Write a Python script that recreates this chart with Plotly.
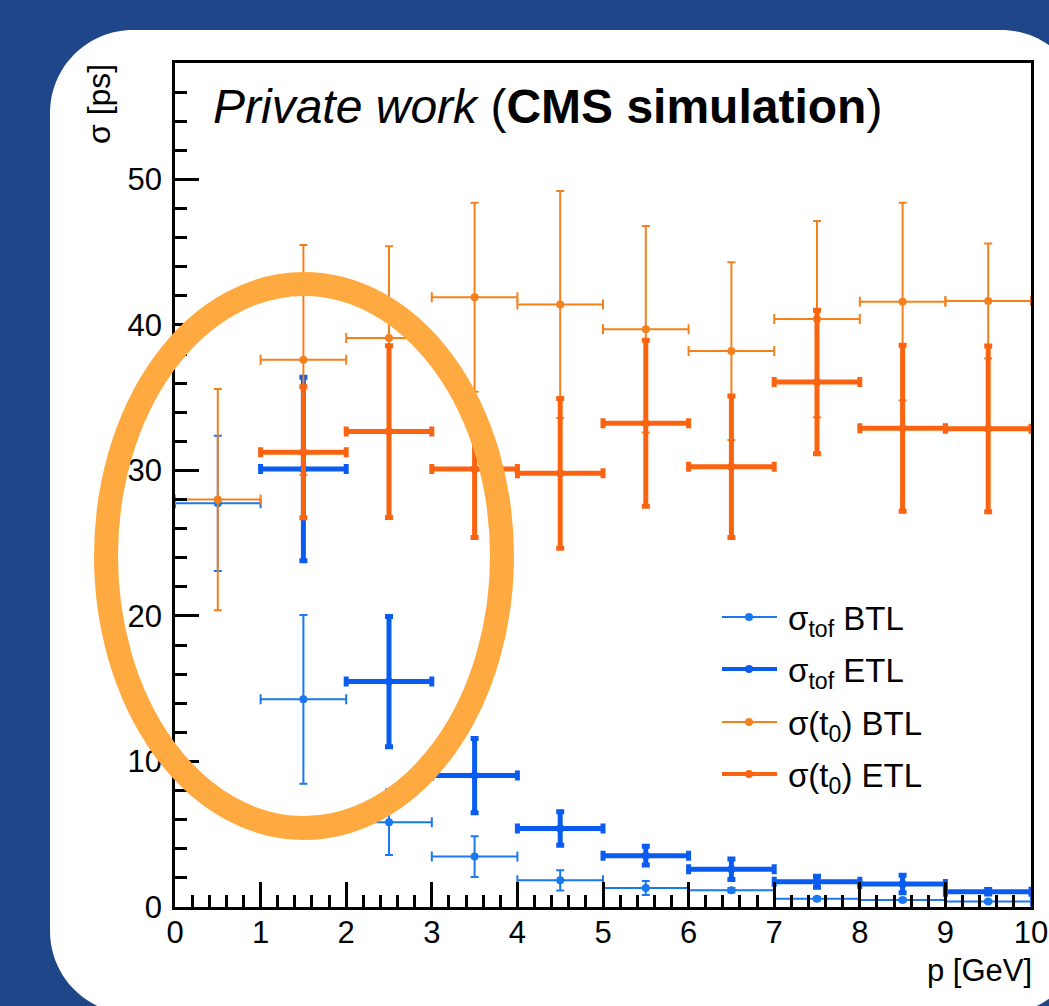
import plotly.graph_objects as go

# momentum bins [GeV]
bin_centers = [0.5, 1.5, 2.5, 3.5, 4.5, 5.5, 6.5, 7.5, 8.5, 9.5]
bin_halfwidth = [0.5] * 10

# sigma_tof, barrel (BTL) and endcap (ETL) [ps]
tof_btl = [27.74, 14.27, 5.82, 3.47, 1.83, 1.31, 1.15, 0.57, 0.48, 0.37]
tof_btl_err = [4.65, 5.8, 2.25, 1.4, 0.7, 0.48, 0.15, 0.1, 0.1, 0.08]
tof_etl = [None, 30.1, 15.49, 9.03, 5.4, 3.53, 2.59, 1.74, 1.58, 1.05]
tof_etl_err = [None, 6.3, 4.47, 2.55, 1.15, 0.65, 0.7, 0.38, 0.6, 0.15]

# sigma(t0), barrel (BTL) and endcap (ETL) [ps]
t0_btl = [28.0, 37.6, 39.1, 41.9, 41.4, 39.7, 38.2, 40.4, 41.6, 41.65]
t0_btl_err = [7.6, 7.9, 6.3, 6.5, 7.8, 7.1, 6.1, 6.75, 6.8, 3.95]
t0_etl = [None, 31.25, 32.67, 30.1, 29.8, 33.24, 30.26, 36.08, 32.9, 32.86]
t0_etl_err = [None, 4.5, 5.9, 4.7, 5.15, 5.7, 4.86, 4.93, 5.7, 5.7]

series_names = ["σ<sub>tof</sub> BTL", "σ<sub>tof</sub> ETL",
                "σ(t<sub>0</sub>) BTL", "σ(t<sub>0</sub>) ETL"]

C_TOF_BTL = "#1a78f0"
C_TOF_ETL = "#0a5cf0"
C_T0_BTL = "#f5801e"
C_T0_ETL = "#fa6410"
C_RING = "#ffaa40"
C_BG = "#1e4688"

FONT = "Liberation Sans, Arial, Helvetica, sans-serif"

W_PX, H_PX = 1049, 1006
L, R, T, B = 175, 18, 63, 99
PW, PH = W_PX - L - R, H_PX - T - B


def px(x):
    return (x - L) / PW


def py(y):
    return (T + PH - y) / PH


series = [
    (tof_btl, tof_btl_err, C_TOF_BTL, 2, 8),
    (tof_etl, tof_etl_err, C_TOF_ETL, 5, 8),
    (t0_btl, t0_btl_err, C_T0_BTL, 2, 8),
    (t0_etl, t0_etl_err, C_T0_ETL, 5, 8),
]

fig = go.Figure()
for (vals, errs, col, thick, msize), name in zip(series, series_names):
    fig.add_trace(go.Scatter(
        x=bin_centers, y=vals, mode="markers", name=name,
        marker=dict(color=col, size=msize, symbol="circle"),
        error_x=dict(type="data", array=bin_halfwidth, color=col,
                     thickness=thick, width=5),
        error_y=dict(type="data", array=errs, color=col,
                     thickness=thick, width=4),
        showlegend=False,
    ))

shapes = []

# white rounded panel behind the plot
x0, x1, y0, y1, r = px(50), px(1084), py(30), py(1014), 83
rx, ry = r / PW, r / PH
k = 0.5523
path = (
    f"M{x0 + rx},{y0} L{x1 - rx},{y0} "
    f"C{x1 - rx + k * rx},{y0} {x1},{y0 - ry + k * ry} {x1},{y0 - ry} "
    f"L{x1},{y1 + ry} "
    f"C{x1},{y1 + ry - k * ry} {x1 - rx + k * rx},{y1} {x1 - rx},{y1} "
    f"L{x0 + rx},{y1} "
    f"C{x0 + rx - k * rx},{y1} {x0},{y1 + ry - k * ry} {x0},{y1 + ry} "
    f"L{x0},{y0 - ry} "
    f"C{x0},{y0 - ry + k * ry} {x0 + rx - k * rx},{y0} {x0 + rx},{y0} Z"
)
shapes.append(dict(type="path", xref="paper", yref="paper", path=path,
                   fillcolor="white", line=dict(width=0), layer="below"))

# highlight ring around the low-momentum bins
shapes.append(dict(type="circle", xref="paper", yref="paper",
                   x0=px(106), x1=px(502), y0=py(828), y1=py(284),
                   line=dict(color=C_RING, width=24), layer="above"))

# legend entries
leg_rows = [617, 669, 722, 774]
annotations = []
for (vals, errs, col, thick, msize), name, yrow in zip(series, series_names, leg_rows):
    shapes.append(dict(type="line", xref="paper", yref="paper",
                       x0=px(722), x1=px(777), y0=py(yrow), y1=py(yrow),
                       line=dict(color=col, width=thick - 1 if thick > 2 else 2)))
    shapes.append(dict(type="circle", xref="paper", yref="paper",
                       xsizemode="pixel", ysizemode="pixel",
                       xanchor=px(749), yanchor=py(yrow),
                       x0=-4, x1=4, y0=-4, y1=4,
                       fillcolor=col, line=dict(width=0)))
    annotations.append(dict(xref="paper", yref="paper", x=px(786), y=py(yrow + 4),
                            xanchor="left", yanchor="middle", showarrow=False,
                            text=name, font=dict(family=FONT, size=33, color="black")))

annotations.append(dict(xref="paper", yref="paper", x=px(211), y=py(106),
                        xanchor="left", yanchor="middle", showarrow=False,
                        text="<i>Private work</i> (<b>CMS simulation</b>)",
                        font=dict(family=FONT, size=48, color="black")))
annotations.append(dict(xref="paper", yref="paper", x=px(99), y=py(62),
                        xanchor="center", yanchor="top", showarrow=False,
                        textangle=-90, text="σ [ps]",
                        font=dict(family=FONT, size=32, color="black")))
annotations.append(dict(xref="paper", yref="paper", x=px(1034), y=py(971),
                        xanchor="right", yanchor="middle", showarrow=False,
                        text="p [GeV]",
                        font=dict(family=FONT, size=31, color="black")))

axis_common = dict(showgrid=False, zeroline=False, showline=True,
                   linecolor="black", linewidth=2.5, mirror=True,
                   ticks="inside", tickcolor="black", tickwidth=2.5,
                   automargin=False,
                   tickfont=dict(family=FONT, size=31, color="black"))

fig.update_layout(
    width=W_PX, height=H_PX, autosize=False,
    margin=dict(l=L, r=R, t=T, b=B, pad=0, autoexpand=False),
    paper_bgcolor=C_BG, plot_bgcolor="white",
    showlegend=False,
    xaxis=dict(range=[0, 10], dtick=1, tick0=0, ticklen=25,
               minor=dict(dtick=0.2, ticklen=12, ticks="inside",
                          tickcolor="black", tickwidth=2.5),
               ticklabelstandoff=-4,
               **axis_common),
    yaxis=dict(range=[0, 58], dtick=10, tick0=0, ticklen=24,
               minor=dict(dtick=2, ticklen=12, ticks="inside",
                          tickcolor="black", tickwidth=2.5),
               ticklabelstandoff=4,
               **axis_common),
    shapes=shapes,
    annotations=annotations,
)

fig.write_html("out.html")
